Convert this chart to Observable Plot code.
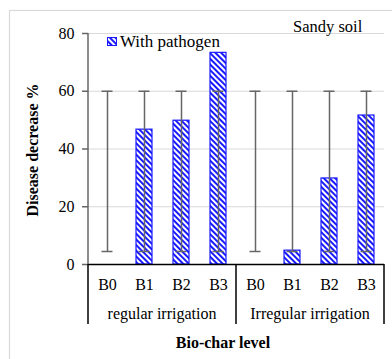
<!DOCTYPE html>
<html><head><meta charset="utf-8">
<script src="https://cdn.jsdelivr.net/npm/d3@7"></script>
<script src="https://cdn.jsdelivr.net/npm/@observablehq/plot@0.6"></script>
<style>
body{margin:0;background:#fff}
svg{display:block}
#chart svg text{font-family:'Liberation Serif','Times New Roman',serif !important;}
</style>
</head><body><div id="chart"></div>
<script>
const levels = ["B0", "B1", "B2", "B3"];
const groups = ["regular irrigation", "Irregular irrigation"];
const regularValues = [0, 46.7, 49.8, 73.3];
const irregularValues = [0, 4.8, 29.8, 51.6];
const errLow = [4.5, 4.5, 4.5, 4.5, 4.5, 4.5, 4.5, 4.5];
const errHigh = [60, 60, 60, 60, 60, 60, 60, 60];
const yTicks = [0, 20, 40, 60, 80];
const seriesName = "With pathogen";
const soilLabel = "Sandy soil";

const rows = [];
[regularValues, irregularValues].forEach((vals, g) => {
  vals.forEach((v, i) => {
    const idx = g * 4 + i;
    rows.push({key: groups[g] + "|" + levels[i], group: groups[g], level: levels[i], value: v, lo: errLow[idx], hi: errHigh[idx]});
  });
});
const keys = rows.map(d => d.key);

const BLUE = "#1a1aff";
const GREY = "#666666";
const FONT = "Liberation Serif, Times New Roman, serif";

const chart = Plot.plot({
  width: 392, height: 359,
  marginLeft: 88, marginRight: 8, marginTop: 33, marginBottom: 95,
  style: {fontFamily: FONT, fontSize: "16px", color: "#000", background: "#fff", overflow: "visible"},
  x: {type: "band", domain: keys, paddingInner: 0.57, paddingOuter: 0.285, align: 0.5, label: null},
  y: {domain: [0, 80], label: null},
  marks: [
    Plot.ruleY(yTicks.filter(v => v > 0), {stroke: "#d9d9d9", strokeWidth: 1.2}),
    Plot.barY(rows.filter(d => d.value > 0), {x: "key", y: "value", fill: "url(#hatch)", stroke: BLUE, strokeWidth: 1.2}),
    Plot.ruleX(rows, {x: "key", y1: "lo", y2: "hi", stroke: GREY, strokeWidth: 1.5}),
    Plot.tickY(rows, {x: "key", y: "hi", stroke: GREY, strokeWidth: 1.5, insetLeft: 2.5, insetRight: 2.5}),
    Plot.tickY(rows, {x: "key", y: "lo", stroke: GREY, strokeWidth: 1.5, insetLeft: 2.5, insetRight: 2.5}),
    Plot.axisY({ticks: yTicks, tickSize: 6, tickPadding: 3, label: null, stroke: GREY, strokeWidth: 1.5, fontSize: 16, fill: "#000"}),
    Plot.axisY({ticks: yTicks, tickSize: 0, tickPadding: 0, label: null, text: null, stroke: GREY}),
    Plot.axisX({tickSize: 0, tickPadding: 14, tickFormat: k => k.split("|")[1], label: null, fontSize: 16, fill: "#000"}),
    Plot.ruleY([0], {stroke: "#000", strokeWidth: 1.5})
  ]
});

document.getElementById("chart").appendChild(chart);

const svg = d3.select(chart);
// shift y tick labels slightly further from the axis
svg.selectAll("g[aria-label='y-axis tick label'] text, g[aria-label='y-axis tick label']").attr("dx", null);
svg.selectAll("g[aria-label='y-axis tick label']").attr("transform", function() {
  const t = this.getAttribute("transform") || "";
  return t + " translate(-5,0)";
});
const xs = chart.scale("x");
const xr = xs.range;
const step = (xr[1] - xr[0]) / keys.length;
const yTop = 33, yZero = 264;

// pattern
const defs = svg.insert("defs", ":first-child");
const pat = defs.append("pattern").attr("id", "hatch").attr("patternUnits", "userSpaceOnUse")
  .attr("width", 4).attr("height", 4).attr("patternTransform", "rotate(45)");
pat.append("rect").attr("width", 4).attr("height", 4).attr("fill", "#fff");
pat.append("line").attr("x1", 0).attr("y1", 1).attr("x2", 4).attr("y2", 1).attr("stroke", BLUE).attr("stroke-width", 2);

// outer border
svg.insert("rect", "defs + *").attr("x", 9.5).attr("y", 10.5).attr("width", 390).attr("height", 360)
  .attr("fill", "none").attr("stroke", "#d9d9d9").attr("stroke-width", 1.2);

const deco = svg.append("g").attr("text-anchor", "start").attr("fill", "#000");
// y axis line
deco.append("line").attr("x1", xr[0]).attr("x2", xr[0]).attr("y1", yTop).attr("y2", yZero).attr("stroke", GREY).attr("stroke-width", 1.5);
// separators
[0, 4, 8].forEach(i => {
  const xx = xr[0] + i * step;
  deco.append("line").attr("x1", xx).attr("x2", xx).attr("y1", yZero).attr("y2", 324).attr("stroke", "#000").attr("stroke-width", 1.5);
});
// group labels
groups.forEach((g, gi) => {
  deco.append("text").attr("x", xr[0] + (gi * 4 + 2) * step).attr("y", 319)
    .attr("text-anchor", "middle").attr("font-size", 16).text(g);
});
// x title
deco.append("text").attr("x", 223).attr("y", 348).attr("text-anchor", "middle")
  .attr("font-size", 16).attr("font-weight", "bold").text("Bio-char level");
// y title
deco.append("text").attr("transform", "translate(38,150) rotate(-90)").attr("text-anchor", "middle")
  .attr("font-size", 16).attr("font-weight", "bold").text("Disease decrease %");
// legend
deco.append("rect").attr("x", 107.5).attr("y", 37.5).attr("width", 9).attr("height", 8)
  .attr("fill", "url(#hatch)").attr("stroke", BLUE).attr("stroke-width", 1);
deco.append("text").attr("x", 120).attr("y", 46.5).attr("text-anchor", "start").attr("font-size", 17).text(seriesName);
// soil label
deco.append("text").attr("x", 293).attr("y", 32).attr("text-anchor", "start").attr("font-size", 16.5).text(soilLabel);
</script>
</body></html>
